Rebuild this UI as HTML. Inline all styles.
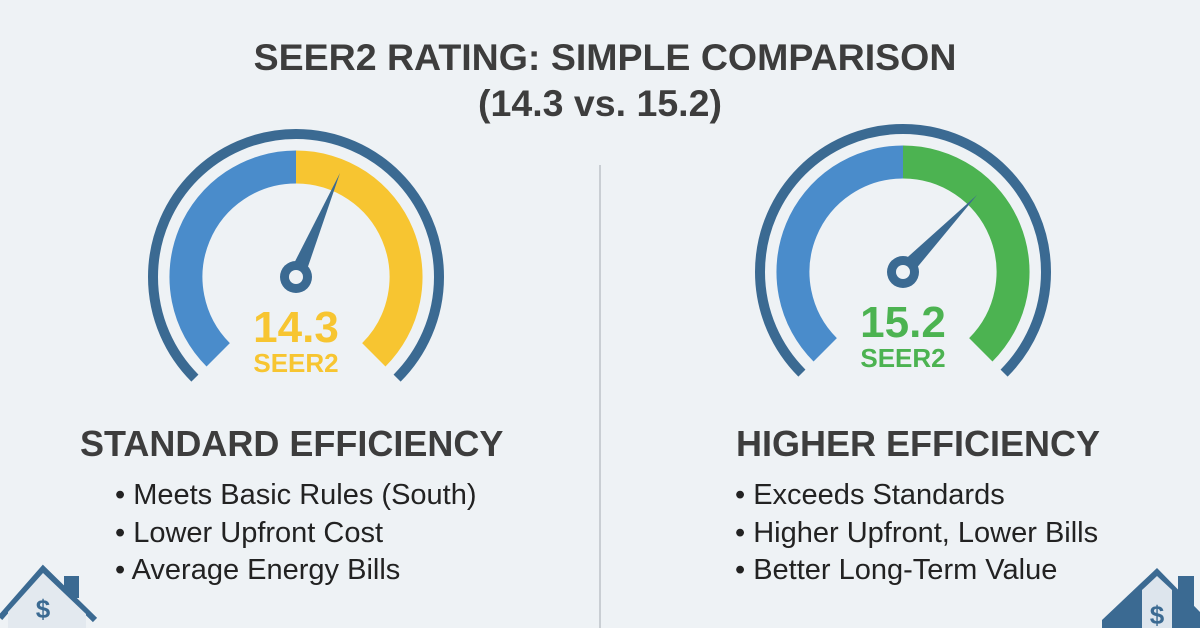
<!DOCTYPE html>
<html><head><meta charset="utf-8"><style>
html,body{margin:0;padding:0;background:#eef2f5;}
svg{display:block;font-family:"Liberation Sans",sans-serif;}
</style></head><body>
<svg width="1200" height="628" viewBox="0 0 1200 628">
<rect width="1200" height="628" fill="#eef2f5"/>
<text x="605" y="70" text-anchor="middle" font-size="37.5" font-weight="bold" fill="#3d3d3d">SEER2 RATING: SIMPLE COMPARISON</text>
<text x="600" y="116" text-anchor="middle" font-size="37.5" font-weight="bold" fill="#3d3d3d">(14.3 vs. 15.2)</text>
<line x1="600" y1="165" x2="600" y2="628" stroke="#c9ced3" stroke-width="2"/>

<path d="M194.9 378.1 A143 143 0 1 1 397.1 378.1" fill="none" stroke="#3b6a92" stroke-width="10"/>
<path d="M218.2 354.8 A110 110 0 0 1 296 167" fill="none" stroke="#4a8ccb" stroke-width="33"/>
<path d="M296 167 A110 110 0 0 1 373.8 354.8" fill="none" stroke="#f7c531" stroke-width="33"/>
<polygon points="340,173 303.4,280 288.6,274" fill="#3b6a92"/>
<circle cx="296" cy="277" r="16" fill="#3b6a92"/><circle cx="296" cy="277" r="7" fill="#eef2f5"/>
<text x="296" y="342" text-anchor="middle" font-size="44" font-weight="bold" fill="#f7c531">14.3</text>
<text x="296" y="372" text-anchor="middle" font-size="26" font-weight="bold" fill="#f7c531">SEER2</text>

<path d="M801.9 373.1 A143 143 0 1 1 1004.1 373.1" fill="none" stroke="#3b6a92" stroke-width="10"/>
<path d="M825.2 349.8 A110 110 0 0 1 903 162" fill="none" stroke="#4a8ccb" stroke-width="33"/>
<path d="M903 162 A110 110 0 0 1 980.8 349.8" fill="none" stroke="#4cb351" stroke-width="33"/>
<polygon points="977,195 908.8,277.5 897.2,266.5" fill="#3b6a92"/>
<circle cx="903" cy="272" r="16" fill="#3b6a92"/><circle cx="903" cy="272" r="7" fill="#eef2f5"/>
<text x="903" y="337" text-anchor="middle" font-size="44" font-weight="bold" fill="#4cb351">15.2</text>
<text x="903" y="367" text-anchor="middle" font-size="26" font-weight="bold" fill="#4cb351">SEER2</text>

<text x="80" y="456" font-size="36" font-weight="bold" fill="#3d3d3d">STANDARD EFFICIENCY</text>
<g font-size="29" fill="#222">
<text x="115" y="504">• Meets Basic Rules (South)</text>
<text x="115" y="542">• Lower Upfront Cost</text>
<text x="115" y="579">• Average Energy Bills</text>
</g>
<text x="736" y="456" font-size="36" font-weight="bold" fill="#3d3d3d">HIGHER EFFICIENCY</text>
<g font-size="29" fill="#222">
<text x="735" y="504">• Exceeds Standards</text>
<text x="735" y="542">• Higher Upfront, Lower Bills</text>
<text x="735" y="579">• Better Long-Term Value</text>
</g>

<rect x="64" y="576" width="15" height="22" fill="#3b6a92"/>
<path d="M0 618 L43 569 L95 620" fill="none" stroke="#3b6a92" stroke-width="6"/>
<path d="M8 628 L8 612 L43 573 L86 614 L86 628 Z" fill="#e3e9ef"/>
<text x="43" y="618" text-anchor="middle" font-size="26" font-weight="bold" fill="#3b6a92">$</text>
<rect x="1178" y="576" width="16" height="30" fill="#3b6a92"/>
<path d="M1102 628 L1102 620 L1157 568 L1200 612 L1200 628 Z" fill="#3b6a92"/>
<path d="M1142 628 L1142 590 L1157 576 L1172 590 L1172 628 Z" fill="#dde5ed"/>
<text x="1157" y="624" text-anchor="middle" font-size="26" font-weight="bold" fill="#3b6a92">$</text>
</svg>
</body></html>
